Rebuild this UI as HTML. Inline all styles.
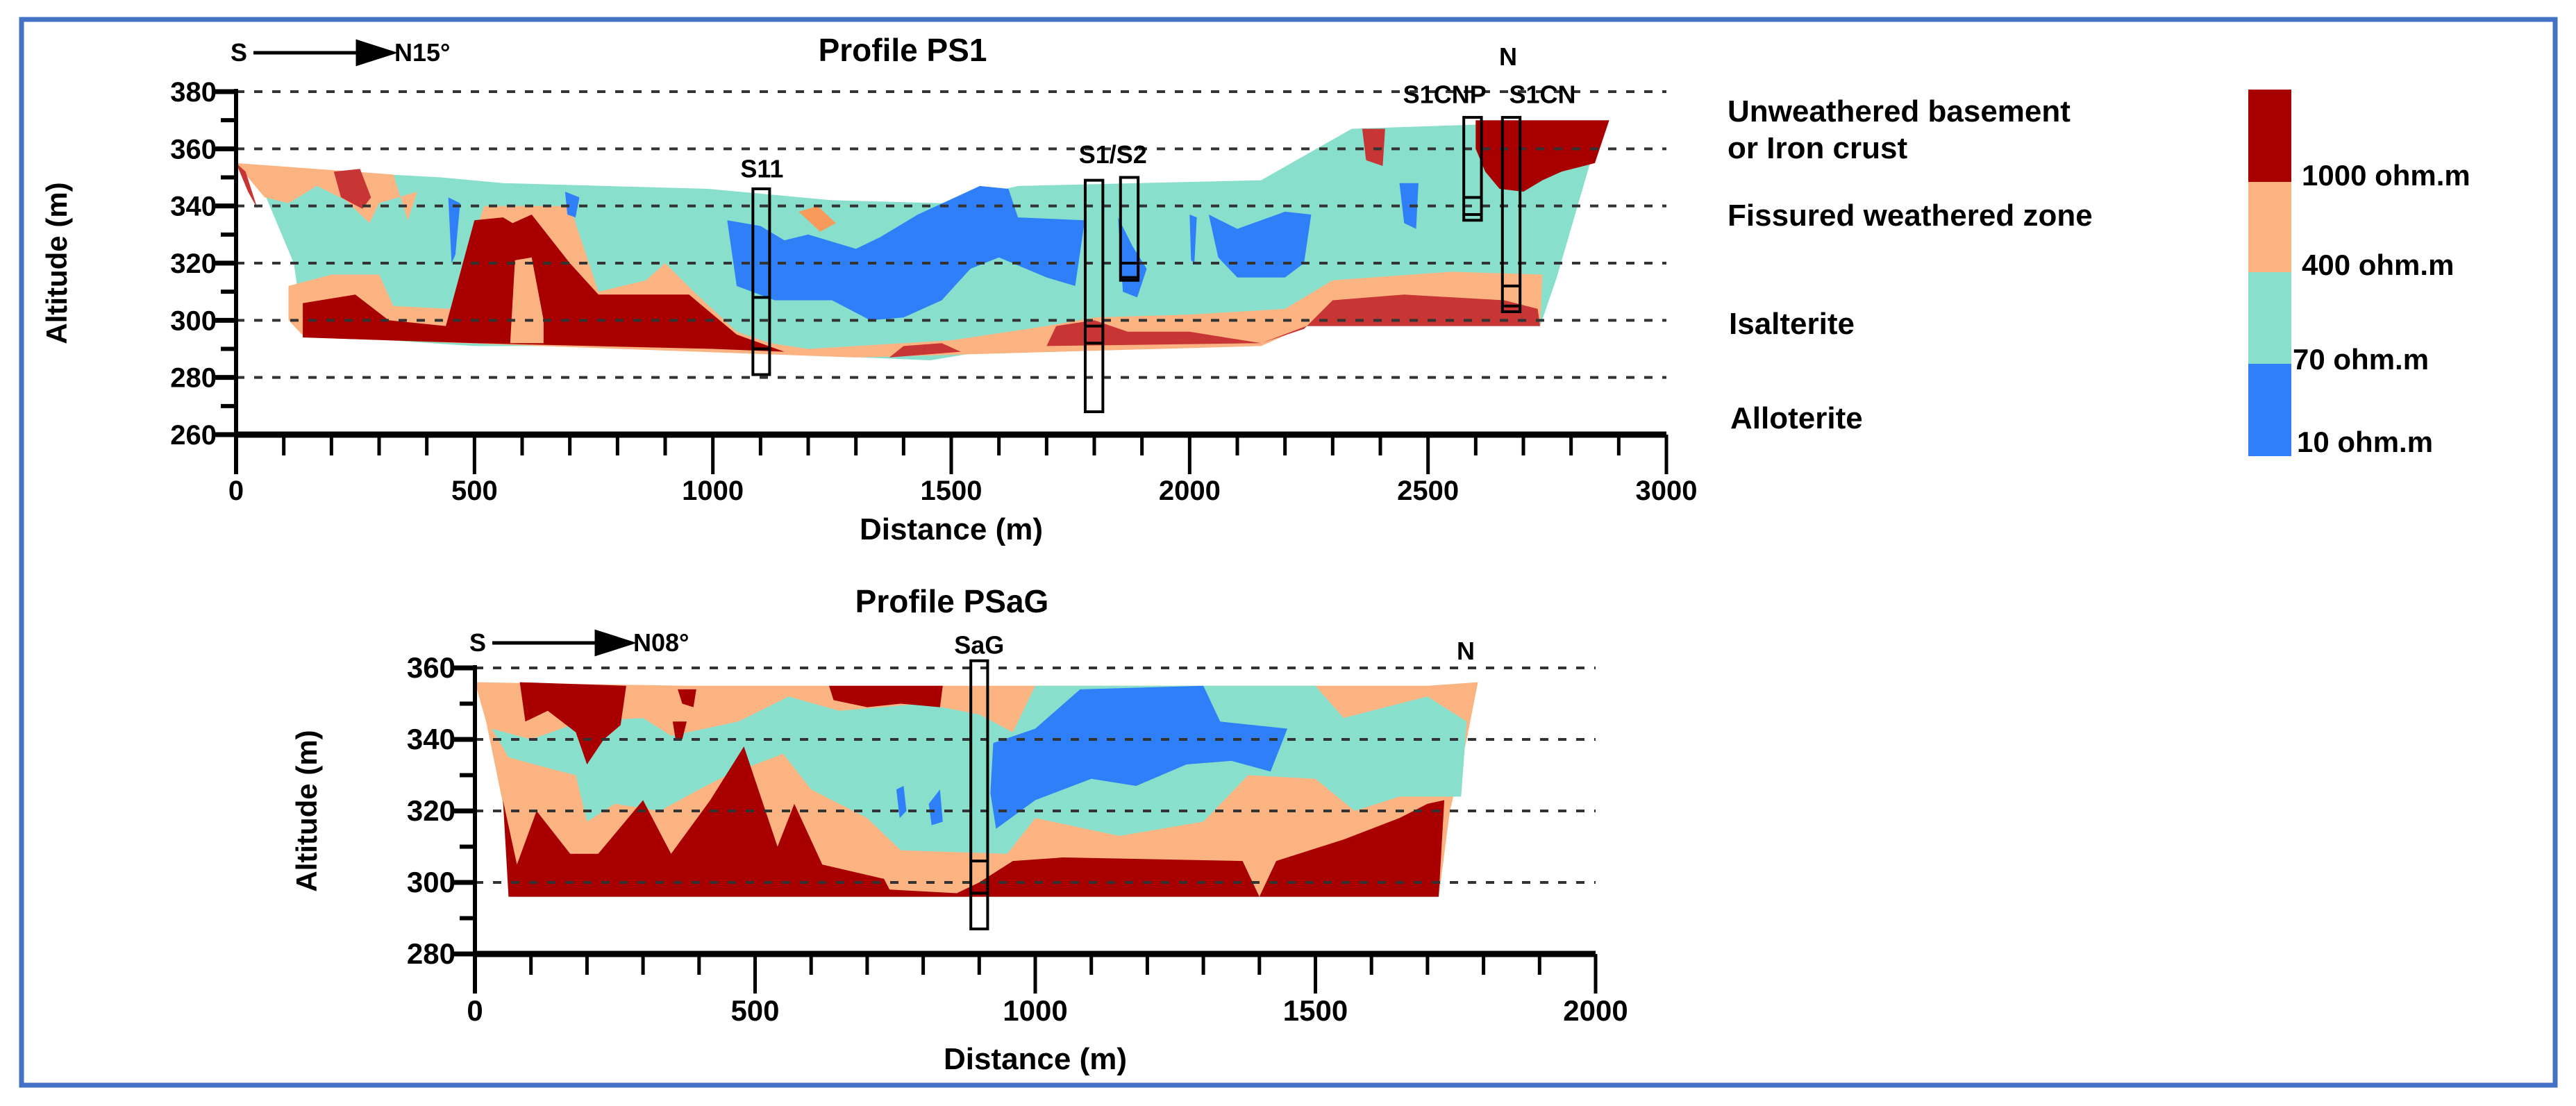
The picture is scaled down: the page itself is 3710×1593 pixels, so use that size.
<!DOCTYPE html>
<html><head><meta charset="utf-8"><style>
html,body{margin:0;padding:0;background:#fff;}
svg{display:block;}
text{font-family:"Liberation Sans Narrow","Liberation Sans",sans-serif;font-weight:bold;fill:#000;}
</style></head><body>
<svg id="fig" xmlns="http://www.w3.org/2000/svg" width="3710" height="1593" viewBox="0 0 3710 1593">
<rect x="31" y="28" width="3649" height="1535" fill="#fff" stroke="#4472c4" stroke-width="7"/>
<g id="legend">
<text x="2488" y="175" font-size="44">Unweathered basement</text>
<text x="2488" y="228" font-size="44">or Iron crust</text>
<text x="2488" y="325" font-size="44">Fissured weathered zone</text>
<text x="2490" y="481" font-size="44">Isalterite</text>
<text x="2492" y="617" font-size="44">Alloterite</text>
<rect x="3238" y="129" width="62" height="133" fill="#a80000"/>
<rect x="3238" y="262" width="62" height="130" fill="#fbb382"/>
<rect x="3238" y="392" width="62" height="132" fill="#88dfcc"/>
<rect x="3238" y="524" width="62" height="133" fill="#2e7ff8"/>
<text x="3315" y="267" font-size="42">1000 ohm.m</text>
<text x="3315" y="396" font-size="42">400 ohm.m</text>
<text x="3302" y="532" font-size="42">70 ohm.m</text>
<text x="3308" y="651" font-size="42">10 ohm.m</text>
</g>
</svg>
<script>
// ---------- Profile PS1 data (distance m, altitude m) ----------
const ps1Outline=[[0,355],[100,353],[430,350],[560,348],[990,346],[1250,342],[1480,341],[1640,347],[2150,349],[2340,367],[2880,370],[2840,355],[2770,315],[2735,298],[2245,298],[2150,291],[1600,290],[1456,286],[1316,287],[1177,289],[990,291],[500,291],[318,293],[144,294],[121,320],[63,343]];
const ps1Salmon=[[110,300],[110,312],[200,316],[300,316],[330,305],[450,304],[520,340],[700,340],[760,310],[860,314],[900,320],[960,310],[1050,296],[1120,292],[1200,290],[1300,291],[1500,293],[1700,298],[1800,301],[2000,302],[2200,304],[2300,314],[2550,317],[2740,316],[2735,298],[2245,298],[2150,291],[1300,287],[144,294]];
const ps1TopSalmon=[[0,355],[330,351],[360,335],[380,345],[300,341],[280,334],[230,342],[170,347],[110,341],[60,343]];
const ps1RedLeft=[[140,294],[140,306],[250,309],[320,300],[440,298],[500,335],[560,336],[580,334],[620,337],[700,320],[760,309],[950,309],[1050,295],[1150,289],[1000,290],[500,292]];
const ps1SalmonGap=[[575,292],[585,321],[620,322],[645,300],[645,292]];
const ps1RedRight=[[2150,292],[2240,297],[2300,307],[2450,309],[2660,307],[2730,304],[2735,298],[2245,298]];
const ps1RedMid=[[1700,291],[1720,298],[1800,300],[1870,296],[2000,296],[2150,292]];
const ps1RedMid2=[[1370,287],[1400,291],[1480,292],[1520,289]];
const ps1RedTop=[[2600,370],[2880,370],[2850,355],[2780,352],[2740,349],[2700,345],[2650,346],[2620,352],[2600,360]];
const ps1RedTop2=[[2362,367],[2410,367],[2405,354],[2370,356]];
const ps1RedTL=[[0,355],[20,352],[45,339],[25,345]];
const ps1RedBlob=[[205,352],[260,353],[283,343],[265,339],[220,343]];
const ps1BlueMain=[[1030,335],[1100,333],[1150,328],[1200,330],[1300,325],[1350,329],[1430,337],[1560,347],[1620,346],[1640,336],[1780,335],[1760,312],[1700,315],[1600,322],[1540,318],[1480,307],[1400,301],[1330,300],[1250,307],[1130,307],[1050,312]];
const ps1BlueS2=[[1850,336],[1880,326],[1910,318],[1890,308],[1860,310]];
const ps1BlueRight=[[2040,337],[2100,332],[2200,338],[2255,337],[2240,320],[2200,315],[2100,315],[2060,322]];
const ps1BlueSmall1=[[445,343],[470,341],[460,323],[452,320]];
const ps1BlueSmall2=[[690,345],[720,343],[712,336],[695,337]];
const ps1BlueSmall3=[[2440,348],[2480,348],[2475,332],[2450,334]];
const ps1BlueSmall4=[[2000,337],[2015,336],[2010,320],[2003,321]];
const ps1SalmonBlob=[[1180,338],[1220,340],[1258,334],[1225,331]];
const ps1Boreholes=[[1084,1119,346,281,308,290],[1781,1818,349,268,298,292],[1855,1892,350,314,320,315],[2575,2612,371,335,343,337],[2656,2693,371,303,312,305]];
const ps1BoreLabels=[["S11",1103,350],["S1/S2",1839,355],["S1CNP",2535,376],["S1CN",2740,376]];
const ps1XTicks=[0,500,1000,1500,2000,2500,3000];
const ps1YTicks=[260,280,300,320,340,360,380];
const ps1Grid=[280,300,320,340,360,380];

// ---------- Profile PSaG data ----------
const psagOutline=[[0,356],[380,355],[900,355],[1700,355],[1790,356],[1770,340],[1740,320],[1720,296],[70,296],[50,322],[20,345]];
const psagTeal=[[30,343],[100,340],[190,345],[300,346],[350,341],[470,345],[560,352],[650,348],[800,350],[900,347],[960,342],[1000,355],[1500,355],[1550,346],[1700,352],[1770,345],[1760,324],[1650,324],[1570,320],[1500,329],[1380,330],[1300,317],[1150,313],[1000,318],[950,308],[760,309],[700,318],[600,326],[550,336],[450,330],[400,326],[330,320],[250,322],[200,317],[180,330],[130,332],[60,335]];
const psagRedBottom=[[60,296],[50,323],[75,305],[110,320],[170,308],[220,308],[300,323],[350,308],[420,323],[480,338],[540,310],[570,322],[620,305],[730,301],[740,298],[860,297],[900,300],[960,306],[1050,307],[1370,306],[1400,296],[1430,306],[1550,312],[1650,318],[1700,322],[1730,323],[1720,296]];
const psagRedTop1=[[80,356],[270,355],[260,344],[230,340],[200,333],[180,342],[130,348],[90,345]];
const psagRedTop2=[[632,355],[835,355],[830,349],[760,350],[700,349],[640,351]];
const psagRedTop3=[[362,354],[395,354],[390,349],[370,350]];
const psagRedSpot=[[353,345],[378,345],[370,340],[358,340]];
const psagBlue=[[925,339],[1000,343],[1080,354],[1300,355],[1330,345],[1450,343],[1420,331],[1350,334],[1270,333],[1180,327],[1100,329],[1000,323],[930,315],[920,325]];
const psagBlueSpot1=[[752,326],[765,327],[770,320],[758,318]];
const psagBlueSpot2=[[810,322],[830,326],[835,317],[815,316]];
const psagBoreholes=[[885,915,362,287,306,297]];
const psagBoreLabels=[["SaG",900,364]];
const psagXTicks=[0,500,1000,1500,2000];
const psagYTicks=[280,300,320,340,360];
const psagGrid=[300,320,340,360];

const NS="http://www.w3.org/2000/svg";
const svg=document.getElementById('fig');
function mk(tag,attrs,parent){const e=document.createElementNS(NS,tag);for(const k in attrs)e.setAttribute(k,attrs[k]);(parent||svg).appendChild(e);return e;}

function drawChart(c){
  const g=mk('g',{});
  
  
  const X=v=>c.x0+(v-c.xmin)/(c.xmax-c.xmin)*(c.x1-c.x0);
  const Y=v=>c.y0+(c.ymax-v)/(c.ymax-c.ymin)*(c.y1-c.y0);
  const poly=(pts,fill,name)=>{const p=mk('polygon',{points:pts.map(q=>X(q[0]).toFixed(1)+','+Y(q[1]).toFixed(1)).join(' '),fill:fill},g);
    
    return p;};
  c.polys.forEach(pp=>poly(pp[0],pp[1],pp[2]));
  c.grid.forEach(v=>{const l=mk('line',{x1:X(c.xmin),x2:X(c.xmax),y1:Y(v),y2:Y(v),stroke:'#333','stroke-width':4,'stroke-dasharray':'12 14'},g);
    
    });
  c.bores.forEach((b,i)=>{const r=mk('rect',{x:X(b[0]),y:Y(b[2]),width:X(b[1])-X(b[0]),height:Y(b[3])-Y(b[2]),fill:'none',stroke:'#000','stroke-width':4},g);
    
    
    [b[4],b[5]].forEach(v=>{const l=mk('line',{x1:X(b[0]),x2:X(b[1]),y1:Y(v),y2:Y(v),stroke:'#000','stroke-width':4},g);
      
      });});
  c.labels.forEach(L=>{const t=mk('text',{x:X(L[1]),y:Y(L[2]),'font-size':c.lfs,'text-anchor':'middle'},g);t.textContent=L[0];
    
    });
  const ax=mk('line',{x1:X(c.xmin),x2:X(c.xmin),y1:Y(c.ymax)-4,y2:Y(c.ymin)+c.majLen,stroke:'#000','stroke-width':6},g);
  
  
  const bx=mk('line',{x1:X(c.xmin),x2:X(c.xmax),y1:Y(c.ymin),y2:Y(c.ymin),stroke:'#000','stroke-width':9},g);
  
  
  for(let v=c.ymin;v<=c.ymax;v+=10){const maj=(v-c.ymin)%20===0;
    const l=mk('line',{x1:X(c.xmin)-(maj?30:22),x2:X(c.xmin),y1:Y(v),y2:Y(v),stroke:'#000','stroke-width':maj?7:6},g);
    
    }
  c.yticks.forEach(v=>{const t=mk('text',{x:X(c.xmin)-28,y:Y(v)+14,'font-size':c.tfs,'text-anchor':'end'},g);t.textContent=v;
    
    });
  for(let v=c.xmin;v<=c.xmax;v+=100){const maj=v%500===0;
    const l=mk('line',{x1:X(v),x2:X(v),y1:Y(c.ymin),y2:Y(c.ymin)+(maj?c.majLen:c.minLen),stroke:'#000','stroke-width':5},g);
    
    }
  c.xticks.forEach(v=>{const t=mk('text',{x:X(v),y:c.xlabY,'font-size':c.tfs,'text-anchor':'middle'},g);t.textContent=v;
    
    });
  const xt=mk('text',{x:(X(c.xmin)+X(c.xmax))/2,y:c.xtitleY,'font-size':44,'text-anchor':'middle'},g);xt.textContent='Distance (m)';
  
  
  const yt=mk('text',{x:0,y:0,'font-size':42,'text-anchor':'middle',transform:`translate(${c.ytitleX},${(Y(c.ymin)+Y(c.ymax))/2}) rotate(-90)`,style:'font-family:"Liberation Sans",sans-serif'},g);yt.textContent='Altitude (m)';
  
  
  const tt=mk('text',{x:c.titleX,y:c.titleY,'font-size':46,'text-anchor':'middle'},g);tt.textContent=c.title;
  
  
  const s=mk('text',{x:X(c.xmin)-8,y:c.dirY,'font-size':36},g);s.textContent='S';
  
  
  const ar=mk('path',{d:`M${X(c.xmin)+25},${c.dirY-12} H${X(c.xmin)+210} M${X(c.xmin)+175},${c.dirY-28} L${X(c.xmin)+225},${c.dirY-12} L${X(c.xmin)+175},${c.dirY+4} Z`,stroke:'#000','stroke-width':5,fill:'#000'},g);
  
  
  const d=mk('text',{x:X(c.xmin)+228,y:c.dirY,'font-size':36},g);d.textContent=c.dir;
  
  
  const n=mk('text',{x:c.nX,y:c.nY,'font-size':36,'text-anchor':'middle'},g);n.textContent='N';
  
  
}
const T='#88dfcc',S='#fbb382',R='#a80000',M='#c73535',B='#2e7ff8';
drawChart({name:'profile-ps1-chart',xmin:0,xmax:3000,ymin:260,ymax:380,x0:340,x1:2400,y0:132,y1:626,
  polys:[[ps1Outline,T,'ps1-profile-70'],[ps1Salmon,S,'ps1-zone-400-bottom'],[ps1TopSalmon,S,'ps1-zone-400-top'],[ps1RedLeft,R,'ps1-zone-1000-left'],[ps1SalmonGap,S,'ps1-zone-400-gap'],[ps1RedRight,M,'ps1-zone-1000-right'],[ps1RedMid,M,'ps1-zone-1000-mid'],[ps1RedMid2,M,'ps1-zone-1000-mid2'],[ps1RedTop,R,'ps1-zone-1000-top'],[ps1RedTop2,M,'ps1-zone-1000-top2'],[ps1RedTL,M,'ps1-zone-1000-left-edge'],[ps1RedBlob,M,'ps1-zone-1000-blob'],[ps1BlueMain,B,'ps1-zone-10-main'],[ps1BlueS2,B,'ps1-zone-10-s2'],[ps1BlueRight,B,'ps1-zone-10-right'],[ps1BlueSmall1,B,'ps1-zone-10-a'],[ps1BlueSmall2,B,'ps1-zone-10-b'],[ps1BlueSmall3,B,'ps1-zone-10-c'],[ps1BlueSmall4,B,'ps1-zone-10-d'],[ps1SalmonBlob,'#f79a5c','ps1-zone-400-blob']],
  grid:ps1Grid,bores:ps1Boreholes,labels:ps1BoreLabels,lfs:36,xticks:ps1XTicks,yticks:ps1YTicks,majLen:57,minLen:30,tfs:40,
  xlabY:720,xtitleY:777,ytitleX:96,title:'Profile PS1',titleX:1300,titleY:88,dir:'N15°',dirY:88,nX:2172,nY:94});
drawChart({name:'profile-psag-chart',xmin:0,xmax:2000,ymin:280,ymax:360,x0:684,x1:2298,y0:962,y1:1374,
  polys:[[psagOutline,S,'psag-profile-400'],[psagTeal,T,'psag-zone-70'],[psagRedBottom,R,'psag-zone-1000-bottom'],[psagRedTop1,R,'psag-zone-1000-top1'],[psagRedTop2,R,'psag-zone-1000-top2'],[psagRedTop3,R,'psag-zone-1000-top3'],[psagRedSpot,R,'psag-zone-1000-spot'],[psagBlue,B,'psag-zone-10'],[psagBlueSpot1,B,'psag-zone-10-spot1'],[psagBlueSpot2,B,'psag-zone-10-spot2']],
  grid:psagGrid,bores:psagBoreholes,labels:psagBoreLabels,lfs:36,xticks:psagXTicks,yticks:psagYTicks,majLen:57,minLen:30,tfs:42,
  xlabY:1470,xtitleY:1540,ytitleX:456,title:'Profile PSaG',titleX:1371,titleY:882,dir:'N08°',dirY:938,nX:2111,nY:950});
</script>
</body></html>
